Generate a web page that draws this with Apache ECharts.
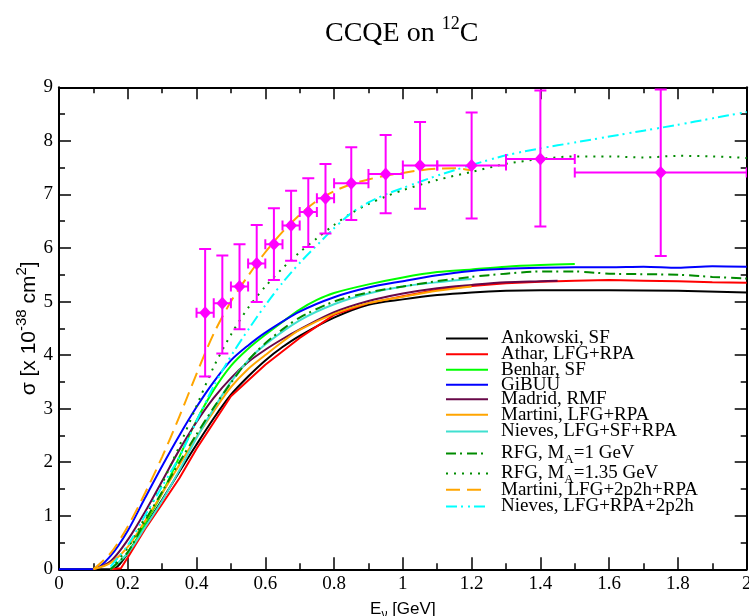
<!DOCTYPE html>
<html><head><meta charset="utf-8">
<script src="https://cdn.jsdelivr.net/npm/echarts@6/dist/echarts.min.js"></script>
<style>html,body{margin:0;padding:0;background:#fff}#c{width:749px;height:616px}</style>
</head><body><div id="c"></div>
<script>
// ---- curves (E in GeV, sigma in 1e-38 cm^2) ----
const ankowskiE = [0,0.15,0.17,0.2,0.25,0.3,0.35,0.4,0.45,0.5,0.55,0.6,0.65,0.7,0.8,0.9,1.0,1.1,1.2,1.3,1.4,1.6,1.8,2.0];
const ankowskiS = [0,0,0.05,0.3,0.8,1.3,1.82,2.33,2.82,3.26,3.6,3.9,4.15,4.36,4.7,4.94,5.04,5.12,5.17,5.2,5.21,5.21,5.2,5.17];
const atharE = [0.15,0.18,0.2,0.25,0.3,0.35,0.4,0.5,0.6,0.7,0.8,0.9,1.0,1.1,1.2,1.3,1.4,1.5,1.6,1.7,1.8,1.9,2.0];
const atharS = [0,0.02,0.22,0.75,1.22,1.7,2.25,3.23,3.82,4.32,4.75,4.97,5.1,5.22,5.29,5.34,5.37,5.39,5.4,5.39,5.38,5.36,5.35];
const benharE = [0.15,0.2,0.25,0.3,0.35,0.4,0.45,0.5,0.55,0.6,0.65,0.7,0.75,0.8,0.9,1.0,1.1,1.2,1.3,1.4,1.5];
const benharS = [0,0.3,0.85,1.42,2.1,2.78,3.35,3.8,4.12,4.38,4.62,4.85,5.03,5.16,5.32,5.45,5.55,5.6,5.65,5.68,5.7];
const gibuuE = [0,0.1,0.15,0.2,0.25,0.3,0.35,0.4,0.45,0.5,0.55,0.6,0.7,0.8,0.9,1.0,1.1,1.2,1.3,1.4,1.5,1.6,1.7,1.8,1.9,2.0];
const gibuuS = [0,0,0.25,0.72,1.33,1.93,2.5,3.03,3.5,3.9,4.18,4.42,4.81,5.08,5.26,5.38,5.49,5.57,5.61,5.63,5.64,5.64,5.65,5.63,5.66,5.65];
const madridE = [0.1,0.15,0.2,0.25,0.3,0.35,0.4,0.45,0.5,0.55,0.6,0.65,0.7,0.8,0.9,1.0,1.1,1.2,1.3,1.4,1.45];
const madridS = [0,0.15,0.55,1.07,1.65,2.23,2.75,3.2,3.57,3.87,4.1,4.3,4.48,4.8,5.01,5.15,5.25,5.31,5.36,5.38,5.39];
const martiniE = [0.1,0.15,0.2,0.25,0.3,0.35,0.4,0.45,0.5,0.55,0.6,0.65,0.7,0.8,0.9,1.0,1.1,1.2];
const martiniS = [0,0.12,0.42,0.9,1.42,1.95,2.47,2.95,3.4,3.74,4.0,4.25,4.47,4.77,4.97,5.09,5.2,5.28];
const nievesE = [0.15,0.2,0.25,0.3,0.35,0.4,0.45,0.5,0.55,0.6,0.7,0.8,0.9,1.0,1.1,1.2];
const nievesS = [0,0.3,0.78,1.28,1.85,2.45,3.0,3.5,3.9,4.2,4.65,4.95,5.15,5.28,5.36,5.42];
const rfg1E = [0.15,0.2,0.25,0.3,0.35,0.4,0.45,0.5,0.55,0.6,0.65,0.7,0.8,0.9,1.0,1.1,1.2,1.3,1.4,1.5,1.6,1.7,1.8,1.9,2.0];
const rfg1S = [0,0.32,0.9,1.45,2.0,2.52,3.02,3.48,3.9,4.22,4.48,4.7,5.0,5.17,5.28,5.38,5.46,5.52,5.56,5.56,5.52,5.51,5.5,5.46,5.43];
const rfg135E = [0.15,0.2,0.25,0.3,0.35,0.4,0.45,0.5,0.55,0.6,0.65,0.7,0.75,0.8,0.85,0.9,0.95,1.0,1.1,1.2,1.3,1.4,1.5,1.6,1.7,1.8,1.9,2.0];
const rfg135S = [0,0.4,0.97,1.6,2.3,3.05,3.78,4.38,4.88,5.28,5.62,5.92,6.18,6.43,6.65,6.82,6.96,7.08,7.27,7.42,7.57,7.66,7.71,7.71,7.69,7.72,7.71,7.68];
const martini2p2hE = [0.1,0.15,0.2,0.25,0.3,0.35,0.4,0.45,0.5,0.55,0.6,0.65,0.7,0.75,0.8,0.85,0.9,0.95,1.0,1.05,1.1,1.15,1.2];
const martini2p2hS = [0,0.3,0.8,1.42,2.1,2.85,3.65,4.4,5.0,5.48,5.92,6.3,6.62,6.88,7.06,7.19,7.28,7.35,7.4,7.45,7.48,7.49,7.45];
const nieves2p2hE = [0.15,0.2,0.25,0.3,0.35,0.4,0.45,0.5,0.55,0.6,0.65,0.7,0.75,0.8,0.85,0.9,0.95,1.0,1.1,1.2,1.3,1.4,1.5,1.6,1.7,1.8,1.9,2.0];
const nieves2p2hS = [0.05,0.45,1.0,1.55,2.1,2.77,3.42,3.98,4.47,4.93,5.35,5.72,6.05,6.37,6.65,6.85,7.0,7.12,7.35,7.55,7.73,7.86,7.97,8.08,8.19,8.3,8.42,8.54];

// ---- data points ----
const dataE      = [0.425,0.475,0.525,0.575,0.625,0.675,0.725,0.775,0.85,0.95,1.05,1.2,1.4,1.75];
const dataSigma  = [4.79,4.97,5.28,5.71,6.07,6.42,6.67,6.93,7.21,7.38,7.54,7.54,7.66,7.41];
const dataSigLo  = [3.60,4.03,4.48,4.99,5.40,5.76,6.02,6.27,6.52,6.65,6.73,6.55,6.40,5.85];
const dataSigHi  = [5.98,5.86,6.07,6.43,6.74,7.07,7.30,7.57,7.88,8.11,8.35,8.53,8.94,8.96];
const dataELo    = [0.40,0.45,0.50,0.55,0.60,0.65,0.70,0.75,0.80,0.90,1.00,1.10,1.30,1.50];
const dataEHi    = [0.45,0.50,0.55,0.60,0.65,0.70,0.75,0.80,0.90,1.00,1.10,1.30,1.50,2.00];

const legendNames = ['Ankowski, SF','Athar, LFG+RPA','Benhar, SF','GiBUU','Madrid, RMF','Martini, LFG+RPA','Nieves, LFG+SF+RPA','RFG, M_A=1 GeV','RFG, M_A=1.35 GeV','Martini, LFG+2p2h+RPA','Nieves, LFG+RPA+2p2h'];

const SERIF = 'Liberation Serif';
const SANS = 'Liberation Sans';
const zip = (xs, ys) => xs.map((x, i) => [x, ys[i]]);

const curves = [
  {name: legendNames[0], x: ankowskiE, y: ankowskiS, color: '#000000', type: 'solid', smooth: 0.3},
  {name: legendNames[1], x: atharE, y: atharS, color: '#ff0000', type: 'solid', smooth: 0},
  {name: legendNames[2], x: benharE, y: benharS, color: '#00ff00', type: 'solid', smooth: 0.3},
  {name: legendNames[3], x: gibuuE, y: gibuuS, color: '#0000ff', type: 'solid', smooth: 0.3},
  {name: legendNames[4], x: madridE, y: madridS, color: '#670748', type: 'solid', smooth: 0.3},
  {name: legendNames[5], x: martiniE, y: martiniS, color: '#ffa500', type: 'solid', smooth: 0.3},
  {name: legendNames[6], x: nievesE, y: nievesS, color: '#40e0d0', type: 'solid', smooth: 0.3},
  {name: legendNames[7], x: rfg1E, y: rfg1S, color: '#008b00', type: [10,4,2,5], smooth: 0.3},
  {name: legendNames[8], x: rfg135E, y: rfg135S, color: '#008b00', type: [2,6], smooth: 0.3},
  {name: legendNames[9], x: martini2p2hE, y: martini2p2hS, color: '#ffa500', type: [14,7], smooth: 0.3},
  {name: legendNames[10], x: nieves2p2hE, y: nieves2p2hS, color: '#00ffff', type: [11,4,2,5,2,4], smooth: 0.3}
];

const lineSeries = curves.map(c => ({
  name: c.name, type: 'line', xAxisIndex: 0, yAxisIndex: 0,
  data: zip(c.x, c.y), symbol: 'none', showSymbol: false, smooth: c.smooth,
  lineStyle: {color: c.color, width: 2, type: c.type}, itemStyle: {color: c.color},
  emphasis: {disabled: true}, silent: true, z: 3
}));

const legendTops = [337, 352.7, 368.3, 383.3, 397.7, 413.3, 430, 449, 469, 488.3, 505];
const legendFormatter = n => {
  if (n.indexOf('M_A') >= 0) {
    const parts = n.split('M_A');
    return '{t|' + parts[0] + 'M}{s|A}{t|' + parts[1] + '}';
  }
  return '{t|' + n + '}';
};
const legends = legendNames.map((n, i) => ({
  data: [n], left: 445, top: legendTops[i] - 8, orient: 'vertical', padding: 0,
  itemWidth: 42, itemHeight: 16, selectedMode: false, formatter: legendFormatter,
  itemStyle: {opacity: 0, borderWidth: 0},
  textStyle: {color: '#000', fontFamily: SERIF, fontSize: 19, lineHeight: 16, padding: [0,0,0,8],
    rich: {t: {fontFamily: SERIF, fontSize: 19, color: '#000', lineHeight: 16},
           s: {fontFamily: SERIF, fontSize: 13, color: '#000', lineHeight: 16, padding: [12,0,0,0]}}}
}));

const errSeries = {
  type: 'custom', xAxisIndex: 0, yAxisIndex: 0, silent: true, z: 5, clip: true,
  data: dataE.map((e, i) => [e, dataSigma[i], dataSigLo[i], dataSigHi[i], dataELo[i], dataEHi[i]]),
  renderItem: (params, api) => {
    const lo = api.coord([api.value(0), api.value(2)]);
    const hi = api.coord([api.value(0), api.value(3)]);
    const l = api.coord([api.value(4), api.value(1)]);
    const r = api.coord([api.value(5), api.value(1)]);
    const st = {stroke: '#ff00ff', lineWidth: 2, fill: null};
    const w = 6, h = 5;
    const seg = (x1,y1,x2,y2) => ({type: 'line', shape: {x1, y1, x2, y2}, style: st});
    return {type: 'group', children: [
      seg(lo[0], lo[1], hi[0], hi[1]),
      seg(lo[0]-w, lo[1], lo[0]+w, lo[1]),
      seg(hi[0]-w, hi[1], hi[0]+w, hi[1]),
      seg(l[0], l[1], r[0], r[1]),
      seg(l[0], l[1]-h, l[0], l[1]+h),
      seg(r[0], r[1]-h, r[0], r[1]+h)
    ]};
  }
};
const pointSeries = {
  type: 'scatter', xAxisIndex: 0, yAxisIndex: 0, silent: true, z: 6,
  data: zip(dataE, dataSigma), symbol: 'diamond', symbolSize: [12, 13],
  itemStyle: {color: '#ff00ff', opacity: 1}
};

const axisCommon = {
  axisLine: {show: true, onZero: false, lineStyle: {color: '#000', width: 2}},
  axisTick: {show: true, inside: true, length: 12, lineStyle: {color: '#000', width: 1.5}},
  minorTick: {show: true, splitNumber: 2, length: 6, lineStyle: {color: '#000', width: 1.5}},
  splitLine: {show: false}, minorSplitLine: {show: false}
};

const chart = echarts.init(document.getElementById('c'), null, {renderer: 'canvas'});
chart.setOption({
  animation: false,
  backgroundColor: '#fff',
  title: {
    text: '{a|CCQE on }{s|12}{a|C}', left: 320, top: 13,
    textStyle: {fontWeight: 'normal', rich: {
      a: {fontFamily: SERIF, fontSize: 28, fontWeight: 'normal', color: '#000', lineHeight: 32},
      s: {fontFamily: SERIF, fontSize: 18, fontWeight: 'normal', color: '#000', lineHeight: 32, padding: [0,0,19,0]}
    }}
  },
  grid: {left: 59, right: 2.3, top: 87.3, bottom: 46.7, containLabel: false, outerBoundsMode: 'none'},
  xAxis: [
    Object.assign({}, axisCommon, {
      type: 'value', position: 'bottom', min: 0, max: 2, interval: 0.2,
      axisLabel: {show: true, color: '#000', fontFamily: SERIF, fontSize: 19, margin: 5, showMaxLabel: true, hideOverlap: false},
      name: '{a|E}{b|ν}{a| [GeV]}', nameLocation: 'middle', nameGap: 27,
      nameTextStyle: {rich: {
        a: {fontFamily: SANS, fontSize: 17, color: '#000', lineHeight: 20},
        b: {fontFamily: SANS, fontSize: 12, color: '#000', lineHeight: 20, padding: [10,0,0,0]}
      }}
    }),
    Object.assign({}, axisCommon, {
      type: 'value', position: 'top', min: 0, max: 2, interval: 0.2,
      axisLabel: {show: false}
    })
  ],
  yAxis: [
    Object.assign({}, axisCommon, {
      type: 'value', position: 'left', min: 0, max: 9, interval: 1,
      axisLabel: {show: true, color: '#000', fontFamily: SERIF, fontSize: 19, margin: 6},
      name: '{a|σ [x 10}{s|-38}{a| cm}{s|2}{a|]}', nameLocation: 'middle', nameGap: 18,
      nameMoveOverlap: false,
      nameTextStyle: {rich: {
        a: {fontFamily: SANS, fontSize: 21, color: '#000', lineHeight: 24},
        s: {fontFamily: SANS, fontSize: 15, color: '#000', lineHeight: 24, padding: [0,0,14,0]}
      }}
    }),
    Object.assign({}, axisCommon, {
      type: 'value', position: 'right', min: 0, max: 9, interval: 1,
      axisLabel: {show: false}
    })
  ],
  legend: legends,
  series: lineSeries.concat([errSeries, pointSeries])
});
</script>
</body></html>
